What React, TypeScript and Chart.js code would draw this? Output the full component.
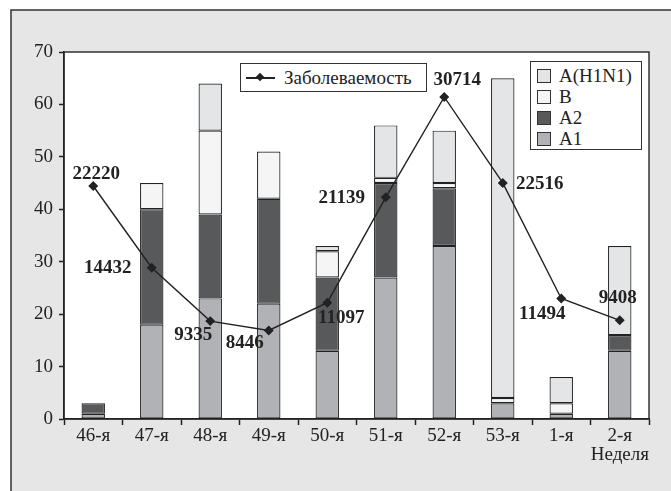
import React, { useEffect, useRef } from 'react';
import { Chart, registerables } from 'chart.js';

Chart.register(...registerables);

const weeks = ['46-я', '47-я', '48-я', '49-я', '50-я', '51-я', '52-я', '53-я', '1-я', '2-я'];
const a1 = [1, 18, 23, 22, 13, 27, 33, 3, 1, 13];
const a2 = [2, 22, 16, 20, 14, 18, 11, 0, 0, 3];
const bFlu = [0, 5, 16, 9, 5, 1, 1, 1, 2, 0];
const h1n1 = [0, 0, 9, 0, 1, 10, 10, 61, 5, 17];
const incidence = [22220, 14432, 9335, 8446, 11097, 21139, 30714, 22516, 11494, 9408];

// where each incidence label sits relative to its point (px)
const labelOffsets = [[3, -12], [-44, 0], [-17, 14], [-24, 13], [14, 15], [-44, 1], [13, -17], [37, 1], [-19, 16], [-2, -22]];

const SERIF = '"Liberation Serif", "DejaVu Serif", serif';
const INK = '#222';
const colors = { a1: '#b1b2b5', a2: '#58595b', b: '#f5f5f5', h1n1: '#e4e5e7', panel: '#e6e6e6' };

const panelPlugin = {
    id: 'panel',
    beforeDraw(chart: any) {
        const { ctx, chartArea: a, width, height } = chart;
        ctx.save();
        ctx.fillStyle = '#fff';
        ctx.fillRect(0, 0, width, height);
        ctx.fillStyle = colors.panel;
        ctx.fillRect(11, 10, width, height);
        ctx.strokeStyle = '#333';
        ctx.lineWidth = 1.5;
        ctx.beginPath();
        ctx.moveTo(11, height);
        ctx.lineTo(11, 10);
        ctx.lineTo(width, 10);
        ctx.stroke();
        ctx.fillStyle = '#fff';
        ctx.fillRect(a.left, a.top, a.width, a.height);
        ctx.strokeRect(a.left, a.top, a.width, a.height);
        ctx.restore();
    },
    afterDraw(chart: any) {
        const { ctx, chartArea: a } = chart;
        ctx.save();
        ctx.font = `19px ${SERIF}`;
        ctx.fillStyle = INK;
        ctx.textAlign = 'right';
        ctx.textBaseline = 'middle';
        ctx.fillText('Неделя', a.right, a.bottom + 36);
        ctx.restore();
    },
};

const labelPlugin = {
    id: 'incidenceLabels',
    afterDatasetsDraw(chart: any) {
        const meta = chart.getDatasetMeta(4);
        const { ctx } = chart;
        ctx.save();
        ctx.font = `bold 19px ${SERIF}`;
        ctx.fillStyle = INK;
        ctx.textAlign = 'center';
        ctx.textBaseline = 'middle';
        meta.data.forEach((pt: any, i: number) => {
            const [dx, dy] = labelOffsets[i];
            ctx.fillText(String(incidence[i]), pt.x + dx, pt.y + dy);
        });
        ctx.restore();
    },
};

const Swatch = ({ color, label }: any) => (
    <div style={{ display: 'flex', alignItems: 'center', height: 21 }}>
        <div style={{ width: 14, height: 14, background: color, border: '1.5px solid #333', boxSizing: 'border-box', marginRight: 8 }} />
        <span>{label}</span>
    </div>
);

const App = () => {
    const canvasRef = useRef<HTMLCanvasElement | null>(null);

    useEffect(() => {
        document.body.style.margin = '0';
        if (!canvasRef.current) return;
        const bar = (label: string, data: number[], color: string) => ({
            type: 'bar' as const,
            label,
            data,
            backgroundColor: color,
            borderColor: INK,
            borderWidth: 1.2,
            borderSkipped: false,
            barPercentage: 0.4,
            categoryPercentage: 1,
            yAxisID: 'y',
            order: 2,
        });
        const chart = new Chart(canvasRef.current, {
            data: {
                labels: weeks,
                datasets: [
                    bar('A1', a1, colors.a1),
                    bar('A2', a2, colors.a2),
                    bar('B', bFlu, colors.b),
                    bar('A(H1N1)', h1n1, colors.h1n1),
                    {
                        type: 'line',
                        label: 'Заболеваемость',
                        data: incidence,
                        borderColor: INK,
                        borderWidth: 1.4,
                        pointStyle: 'rectRot',
                        pointRadius: 4,
                        pointBackgroundColor: INK,
                        pointBorderColor: INK,
                        yAxisID: 'y2',
                        order: 1,
                    } as any,
                ],
            },
            options: {
                animation: false,
                responsive: true,
                maintainAspectRatio: false,
                layout: { padding: { top: 52, right: 22, left: 0, bottom: 0 } },
                plugins: { legend: { display: false }, tooltip: { enabled: false } },
                scales: {
                    x: {
                        stacked: true,
                        grid: { offset: true, drawOnChartArea: false, tickLength: 6, tickColor: INK, tickWidth: 1.5 },
                        border: { color: INK, width: 1.5 },
                        ticks: { font: { family: SERIF, size: 19 }, color: INK, padding: 0 },
                        afterFit: (s: any) => { s.height = 72; },
                    },
                    y: {
                        stacked: true,
                        min: 0,
                        max: 70,
                        grid: { drawOnChartArea: false, tickLength: 5, tickColor: INK, tickWidth: 1.5 },
                        border: { color: INK, width: 1.5 },
                        ticks: { stepSize: 10, font: { family: SERIF, size: 19 }, color: INK, padding: 6 },
                        afterFit: (s: any) => { s.width = 64; },
                    },
                    y2: { display: false, min: 0, max: 35000 },
                },
            },
            plugins: [panelPlugin, labelPlugin],
        });
        return () => chart.destroy();
    }, []);

    return (
        <div style={{ position: 'relative', width: 671, height: 491, fontFamily: SERIF, color: INK }}>
            <canvas ref={canvasRef}></canvas>
            <div style={{ position: 'absolute', left: 240, top: 63, width: 187, height: 29, border: '1px solid #333', background: '#fff', boxSizing: 'border-box', display: 'flex', alignItems: 'center', fontSize: 19 }}>
                <div style={{ position: 'relative', width: 29, height: 2, background: INK, marginLeft: 5, marginRight: 9 }}>
                    <div style={{ position: 'absolute', left: 11, top: -3, width: 6, height: 6, background: INK, transform: 'rotate(45deg)' }} />
                </div>
                <span>Заболеваемость</span>
            </div>
            <div style={{ position: 'absolute', left: 530, top: 61, width: 112, height: 89, border: '1.5px solid #333', background: '#fff', boxSizing: 'border-box', padding: '3px 0 0 6px', fontSize: 19 }}>
                <Swatch color={colors.h1n1} label="A(H1N1)" />
                <Swatch color={colors.b} label="B" />
                <Swatch color={colors.a2} label="A2" />
                <Swatch color={colors.a1} label="A1" />
            </div>
        </div>
    );
};

export default App;
